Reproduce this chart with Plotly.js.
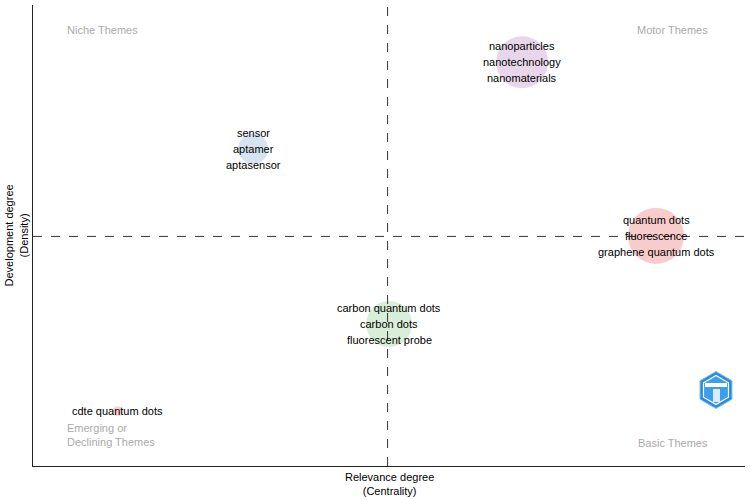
<!DOCTYPE html>
<html>
<head>
<meta charset="utf-8">
<script src="https://cdn.plot.ly/plotly-3.0.1.min.js"></script>
<style>body{margin:0;padding:0;background:#fff;} #chart{width:750px;height:500px;}</style>
</head>
<body>
<div id="chart"></div>
<script>
// ---- data ----
const themeLabels = [
  ["nanoparticles", "nanotechnology", "nanomaterials"],
  ["sensor", "aptamer", "aptasensor"],
  ["quantum dots", "fluorescence", "graphene quantum dots"],
  ["carbon quantum dots", "carbon dots", "fluorescent probe"],
  ["cdte quantum dots"]
];
const centrality = [0.687, 0.309, 0.875, 0.500, 0.119];
const density    = [0.876, 0.688, 0.499, 0.308, 0.119];
const frequency  = [270, 90, 314, 212, 10];
const clusterColors = ["rgba(152,78,163,0.32)", "rgba(55,126,184,0.30)", "rgba(228,26,28,0.32)", "rgba(77,175,74,0.30)", "rgba(228,26,28,0.28)"];
const quadrantNames = ["Niche Themes", "Motor Themes", "Emerging or<br>Declining Themes", "Basic Themes"];
const xTitle = "Relevance degree<br>(Centrality)";
const yTitle = "Development degree<br>(Density)";

const xMid = centrality.reduce((a,b)=>a+b,0)/centrality.length;
const yMid = density.reduce((a,b)=>a+b,0)/density.length;

const FONT = "Liberation Sans, Arial, sans-serif";

const trace = {
  type: "scatter",
  mode: "markers",
  x: centrality,
  y: density,
  marker: {
    size: frequency,
    sizemode: "area",
    sizeref: 0.2,
    color: clusterColors,
    line: {width: 0}
  },
  hoverinfo: "skip",
  showlegend: false
};

const annotations = [];
themeLabels.forEach((lines, i) => {
  const n = lines.length;
  lines.forEach((t, j) => {
    annotations.push({
      x: centrality[i], y: density[i], xref: "x", yref: "y",
      text: t, showarrow: false,
      font: {family: FONT, size: 11, color: "#000"},
      xanchor: "center", yanchor: "middle",
      yshift: ((n - 1) / 2 - j) * 16
    });
  });
});

const qGray = "#aaaaaa";
annotations.push(
  {text: quadrantNames[0], xref: "paper", yref: "paper", x: 0.045, y: 0.946, xanchor: "left", yanchor: "middle", showarrow: false, font: {family: FONT, size: 11, color: qGray}},
  {text: quadrantNames[1], xref: "paper", yref: "paper", x: 0.951, y: 0.946, xanchor: "right", yanchor: "middle", showarrow: false, font: {family: FONT, size: 11, color: qGray}},
  {text: quadrantNames[2], xref: "paper", yref: "paper", x: 0.045, y: 0.067, xanchor: "left", yanchor: "middle", align: "left", showarrow: false, font: {family: FONT, size: 11, color: qGray}},
  {text: quadrantNames[3], xref: "paper", yref: "paper", x: 0.951, y: 0.050, xanchor: "right", yanchor: "middle", showarrow: false, font: {family: FONT, size: 11, color: qGray}},
  {text: xTitle, xref: "paper", yref: "paper", x: 0.5, y: 0, yanchor: "top", xanchor: "center", yshift: -3, showarrow: false, font: {family: FONT, size: 11, color: "#000"}},
  {text: yTitle, xref: "paper", yref: "paper", x: -0.0239, y: 0.5, xanchor: "center", yanchor: "middle", textangle: -90, showarrow: false, font: {family: FONT, size: 11, color: "#000"}}
);

// logo (decorative hexagon) in paper coords
const L = 33, T = 5, W = 712, H = 461;
function hexPath(cx, cy, rx, ry) {
  const pts = [[0,-ry],[rx,-ry/2],[rx,ry/2],[0,ry],[-rx,ry/2],[-rx,-ry/2]];
  return "M" + pts.map(p => ((cx+p[0]-L)/W).toFixed(4) + "," + ((T+H-(cy+p[1]))/H).toFixed(4)).join("L") + "Z";
}
const shapes = [
  {type: "line", xref: "x", yref: "paper", x0: xMid, x1: xMid, y0: 0, y1: 1, line: {color: "#333", width: 1, dash: "dash"}, layer: "above"},
  {type: "line", xref: "paper", yref: "y", x0: 0, x1: 1, y0: yMid, y1: yMid, line: {color: "#333", width: 1, dash: "dash"}, layer: "above"},
  {type: "path", xref: "paper", yref: "paper", path: hexPath(716, 390, 16, 18.5), fillcolor: "#2a8ae0", line: {color: "#7fc0f5", width: 1}},
  {type: "path", xref: "paper", yref: "paper", path: hexPath(716, 390, 12.5, 14.5), fillcolor: "#3aa0ee", line: {color: "#ffffff", width: 1.2}},
  {type: "rect", xref: "paper", yref: "paper", x0: (705-L)/W, x1: (727-L)/W, y0: (T+H-387)/H, y1: (T+H-383)/H, fillcolor: "#ffffff", line: {width: 0}},
  {type: "rect", xref: "paper", yref: "paper", x0: (713-L)/W, x1: (720-L)/W, y0: (T+H-402)/H, y1: (T+H-389)/H, fillcolor: "#d8ecfb", line: {width: 0}}
];

const layout = {
  width: 750, height: 500,
  margin: {l: 33, r: 5, t: 5, b: 34},
  paper_bgcolor: "#fff", plot_bgcolor: "#fff",
  xaxis: {range: [0, 1], showgrid: false, zeroline: false, showticklabels: false, ticks: "", showline: true, linecolor: "#222", linewidth: 1, mirror: false, fixedrange: true},
  yaxis: {range: [0, 1], showgrid: false, zeroline: false, showticklabels: false, ticks: "", showline: true, linecolor: "#222", linewidth: 1, mirror: false, fixedrange: true},
  annotations: annotations,
  shapes: shapes,
  showlegend: false,
  font: {family: FONT}
};

Plotly.newPlot("chart", [trace], layout, {displayModeBar: false, staticPlot: true});
</script>
</body>
</html>
